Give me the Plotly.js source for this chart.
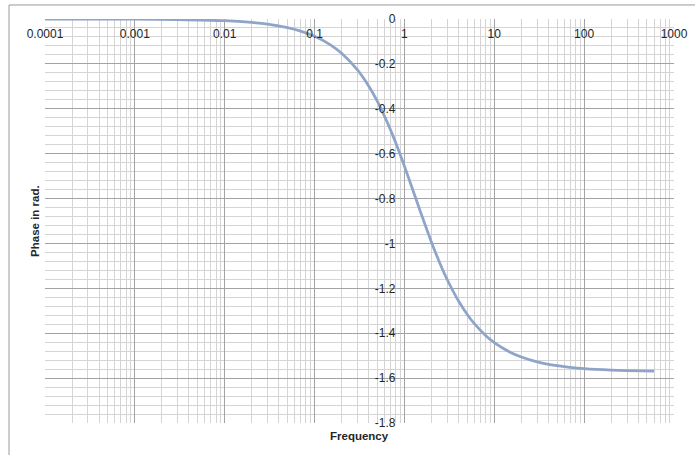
<!DOCTYPE html>
<html>
<head>
<meta charset="utf-8">
<script src="https://cdn.plot.ly/plotly-3.0.1.min.js"></script>
<style>html,body{margin:0;padding:0;background:#fff;}#chart{width:695px;height:455px;}</style>
</head>
<body>
<div id="chart"></div>
<script>
// Frequency values
var frequency = [0.0001, 0.0003, 0.001, 0.003, 0.01, 0.02, 0.03, 0.05, 0.07, 0.1, 0.15, 0.2, 0.3, 0.4, 0.5, 0.6, 0.7, 0.8, 1, 1.2, 1.5, 2, 2.5, 3, 4, 5, 6, 8, 10, 15, 20, 30, 50, 70, 100, 200, 300, 600];
// Phase (rad) at those frequencies
var phase = [0, -0.0002, -0.0008, -0.0023, -0.0077, -0.0154, -0.0231, -0.0384, -0.0538, -0.0768, -0.1149, -0.1526, -0.2268, -0.2985, -0.3672, -0.4325, -0.4941, -0.5517, -0.6557, -0.7454, -0.8567, -0.9944, -1.0913, -1.1618, -1.2567, -1.3163, -1.3573, -1.4097, -1.4415, -1.4844, -1.5059, -1.5275, -1.5448, -1.5522, -1.5578, -1.5643, -1.5665, -1.5686];

var xTickVals = [0.0001, 0.001, 0.01, 0.1, 1, 10, 100, 1000];
var xTickText = ["0.0001", "0.001", "0.01", "0.1", "1", "10", "100", "1000"];
var yTickVals = [0, -0.2, -0.4, -0.6, -0.8, -1, -1.2, -1.4, -1.6, -1.8];
var yTickText = ["0", "-0.2", "-0.4", "-0.6", "-0.8", "-1", "-1.2", "-1.4", "-1.6", "-1.8"];
var xTitle = "Frequency";
var yTitle = "Phase in rad.";

var majorGrid = "#a3a3a3";
var minorGrid = "#d4d4d4";
var textFont = {family: "Liberation Sans, Arial, sans-serif", size: 12, color: "#262626"};

var trace = {
  x: frequency, y: phase, type: "scatter", mode: "lines",
  line: {color: "#8ea5c9", width: 2.75, shape: "spline"},
  hoverinfo: "skip", showlegend: false
};

var layout = {
  width: 695, height: 455,
  margin: {l: 45, r: 21, t: 19, b: 32},
  paper_bgcolor: "#ffffff", plot_bgcolor: "#ffffff",
  font: textFont,
  showlegend: false,
  xaxis: {
    type: "log", range: [-4, 3], side: "top", anchor: "y",
    tickmode: "array", tickvals: xTickVals, ticktext: xTickText,
    ticklabelposition: "inside", ticklabelstandoff: 8, ticks: "",
    ticklabeloverflow: "allow",
    showgrid: true, gridcolor: majorGrid, gridwidth: 1,
    zeroline: false, showline: false,
    minor: {dtick: "D1", showgrid: true, gridcolor: minorGrid, gridwidth: 1, ticks: ""},
    tickfont: textFont, fixedrange: true
  },
  yaxis: {
    range: [-1.8, 0], anchor: "free", position: 4/7, side: "left",
    tickmode: "array", tickvals: yTickVals, ticktext: yTickText,
    ticks: "", ticklabelstandoff: 9, ticklabeloverflow: "allow",
    showgrid: true, gridcolor: majorGrid, gridwidth: 1,
    zeroline: false, showline: false,
    minor: {tick0: 0, dtick: 0.04, showgrid: true, gridcolor: minorGrid, gridwidth: 1, ticks: ""},
    tickfont: textFont, fixedrange: true
  },
  annotations: [
    {text: "<b>" + xTitle + "</b>", xref: "paper", yref: "paper", x: 0.5, y: 0, xanchor: "center", yanchor: "top", yshift: -5, showarrow: false, font: {family: "Liberation Sans, Arial, sans-serif", size: 11.5, color: "#262626"}},
    {text: "<b>" + yTitle + "</b>", xref: "paper", yref: "paper", x: -0.016, y: 0.5, xanchor: "center", yanchor: "middle", textangle: -90, showarrow: false, font: {family: "Liberation Sans, Arial, sans-serif", size: 11.5, color: "#262626"}}
  ],
  shapes: [
    {type: "line", xref: "paper", yref: "paper", x0: -0.0572, x1: 1.05, y0: 1.0347, y1: 1.0347, line: {color: "#9a9a9a", width: 1}},
    {type: "line", xref: "paper", yref: "paper", x0: -0.0572, x1: -0.0572, y0: 1.0347, y1: -0.1, line: {color: "#9a9a9a", width: 1}}
  ]
};

Plotly.newPlot("chart", [trace], layout, {displayModeBar: false, staticPlot: true});
</script>
</body>
</html>
